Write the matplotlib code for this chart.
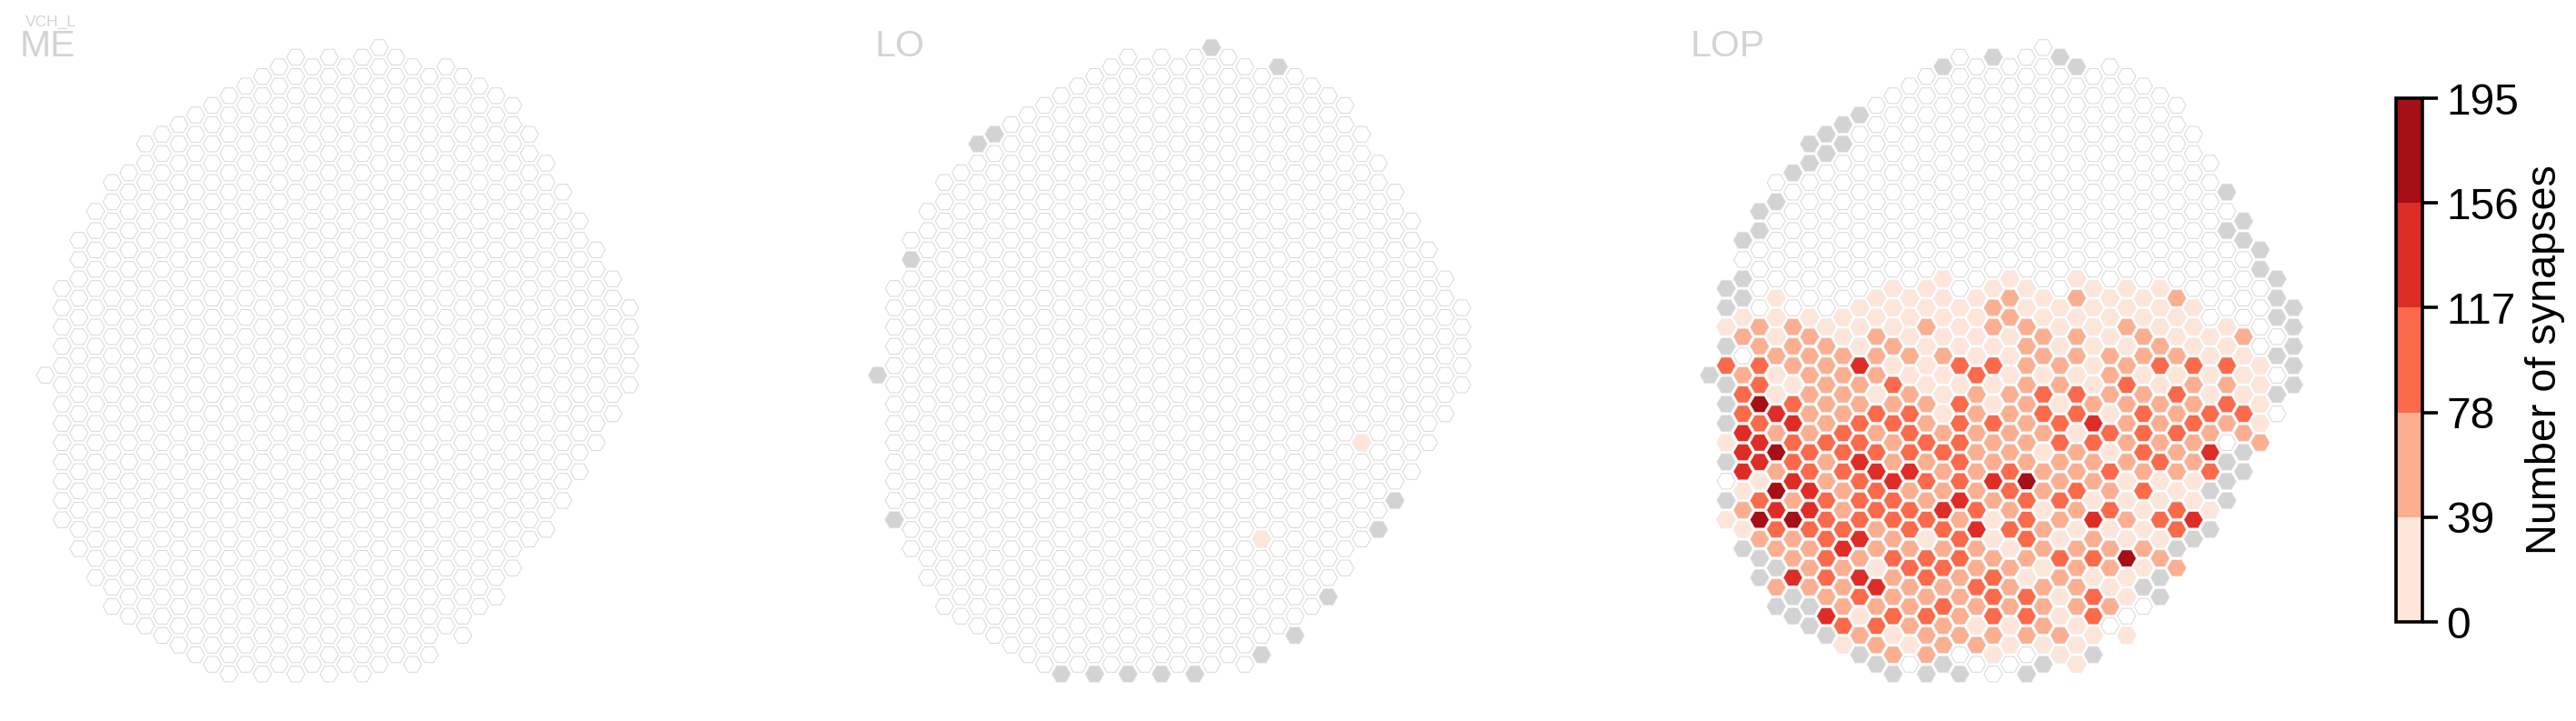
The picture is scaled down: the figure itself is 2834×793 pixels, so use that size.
import matplotlib
matplotlib.use('Agg')
import matplotlib.pyplot as plt
from matplotlib.collections import PatchCollection
from matplotlib.colors import BoundaryNorm, ListedColormap
from matplotlib.cm import ScalarMappable
from matplotlib.patches import RegularPolygon
import numpy as np

plt.rcParams['font.family'] = ['Liberation Sans', 'DejaVu Sans']

W, H = 2834, 793

# hex lattice: highest and lowest row of each column (rows step by 2 in a column)
column_top = [0, 9, 14, 17, 20, 21, 24, 25, 26, 27, 28, 29, 30, 31, 32, 33, 32, 33,
              32, 33, 34, 33, 32, 31, 32, 31, 30, 29, 28, 25, 22, 19, 16, 13, 10, 7]
column_bottom = [0, -15, -18, -21, -24, -25, -26, -27, -28, -29, -30, -31, -30, -31, -30, -31, -30, -31,
                 -30, -31, -30, -29, -30, -29, -26, -27, -24, -23, -20, -17, -16, -13, -10, -7, -4, -1]

# LO: (column, row) of cells without a column match and of cells in the first bin
lo_missing = [(0, 0), (1, -15), (2, 12), (6, 24), (7, 25), (11, -31), (13, -31), (15, -31), (17, -31),
              (19, -31), (20, 34), (23, -29), (24, 32), (25, -27), (27, -23), (30, -16), (31, -13)]
lo_bin1 = [(29, -7), (23, -17)]

# LOP: one string per column, top to bottom. '.' no synapses, 'g' no match, 1-5 colour bin
lop_cells = [
    "g",
    "gg1g3ggg1g.g1",
    "g.gg12.233444121g",
    "gg....223353441352gg",
    ".g....11121142525432g2g",
    "g.......22213433425224gg",
    "gg.......122222233443222gg",
    "gg........1222223223333324g",
    "gg........112222333223422231",
    "g.........111422334333424312g",
    "..........1122213234332214232g",
    "..........11121323224332322312g",
    "...........1112123334233232221.",
    "...........11211122323231332322g",
    "g..........11112111232243232322g",
    ".............111313333342332222.g",
    "............1111322222234223212.",
    "g...........12213113224211233321.",
    "...........12211122223323122211.",
    "............1122222222533321332.g",
    ".............1122133212212212221g",
    "g............1112213322321321121",
    "g..........121221331223212222111",
    "...........1111112432214231331g",
    "............11122213132312212.",
    "...........11212322221121511.1",
    "...........112212333231121g.",
    "..........111231222311312gg",
    "..........2112132322133g2",
    ".........111322322114g",
    ".........11113243g1g",
    "g.g....113232.ggg",
    "gg....211132gg",
    "gg....11112",
    "ggg.g.g.",
    "ggggg",
]

bin_edges = [0, 39, 78, 117, 156, 195]
bin_colors = ['#fee5d9', '#fcae91', '#fb6a4a', '#de2d26', '#a50f15']
missing_color = '#d3d3d3'
empty_edge = '#dadada'
filled_edge = '#eeeeee'

panel_left_px = [50, 965.6, 1880.7]
row_pitch_px = 21.2
origin_y_px = 412.7
empty_radius = 0.47
filled_radius = 0.5

cmap = ListedColormap(bin_colors)
norm = BoundaryNorm(bin_edges, cmap.N)


def lattice():
    cells = []
    for col in range(len(column_top)):
        for row in range(column_top[col], column_bottom[col] - 1, -2):
            cells.append((col, row))
    return cells


def draw_panel(ax, empty, missing, binned):
    """
    Draws one neuropil: white cells first, then the grey and coloured ones on top.
    """
    def hexes(cells, radius):
        return [RegularPolygon((c * np.sqrt(3) / 2, r / 2), 6, radius=radius, orientation=np.pi / 6)
                for c, r in cells]
    ax.add_collection(PatchCollection(hexes(empty, empty_radius), facecolor='white', edgecolor=empty_edge, linewidth=0.75))
    ax.add_collection(PatchCollection(hexes(missing, filled_radius), facecolor=missing_color, edgecolor=filled_edge, linewidth=0.5))
    for b, cells in binned.items():
        color = cmap(norm(bin_edges[b - 1] + 1))
        ax.add_collection(PatchCollection(hexes(cells, filled_radius), facecolor=color, edgecolor=filled_edge, linewidth=0.5))


fig = plt.figure(figsize=(W / 100, H / 100), dpi=100)

all_cells = lattice()

lop_empty, lop_missing = [], []
lop_binned = {b: [] for b in range(1, 6)}
for col, text in enumerate(lop_cells):
    for i, ch in enumerate(text):
        cell = (col, column_top[col] - 2 * i)
        if ch == '.':
            lop_empty.append(cell)
        elif ch == 'g':
            lop_missing.append(cell)
        else:
            lop_binned[int(ch)].append(cell)

lo_empty = [c for c in all_cells if c not in lo_missing and c not in lo_bin1]

panels = [
    (all_cells, [], {}),
    (lo_empty, lo_missing, {1: lo_bin1}),
    (lop_empty, lop_missing, lop_binned),
]
pad_px, panel_w_px = 45, 850
for left, (empty, missing, binned) in zip(panel_left_px, panels):
    ax = fig.add_axes([(left - pad_px) / W, 0, panel_w_px / W, 1])
    ax.set_xlim(-pad_px / row_pitch_px, (panel_w_px - pad_px) / row_pitch_px)
    ax.set_ylim(-(H - origin_y_px) / row_pitch_px, origin_y_px / row_pitch_px)
    ax.axis('off')
    draw_panel(ax, empty, missing, binned)

title_color = '#d3d3d3'
fig.text(28 / W, 1 - 29 / H, 'VCH_L', color=title_color, fontsize=12.5, va='baseline')
fig.text(22 / W, 1 - 62 / H, 'ME', color=title_color, fontsize=29.5, va='baseline')
fig.text(963 / W, 1 - 62 / H, 'LO', color=title_color, fontsize=29.5, va='baseline')
fig.text(1860 / W, 1 - 62 / H, 'LOP', color=title_color, fontsize=29.5, va='baseline')

cax = fig.add_axes([2636 / W, 1 - 684 / H, 29 / W, 576 / H])
cbar = fig.colorbar(ScalarMappable(norm=norm, cmap=cmap), cax=cax, ticks=bin_edges, spacing='proportional')
cbar.outline.set_linewidth(2.6)
cbar.ax.tick_params(length=12, width=2.6, labelsize=34.5, pad=7)
cbar.set_label('Number of synapses', fontsize=33.7, labelpad=5)

fig.savefig('out.png', dpi=100)
